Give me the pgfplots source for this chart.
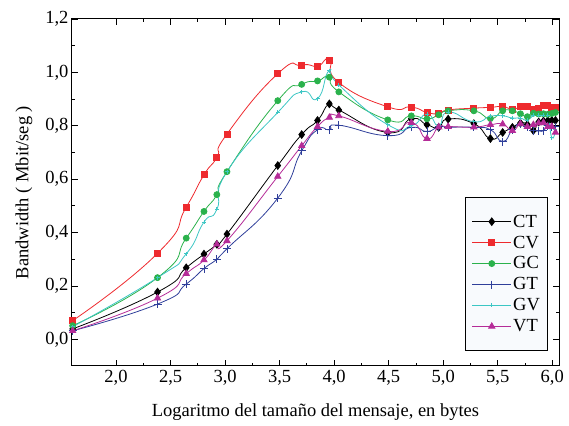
\documentclass[border=0pt]{standalone}
\usepackage{fontspec}
\setmainfont{Liberation Serif}
\usepackage{pgfplots}
\usepackage{pgfplotstable}
\pgfplotsset{compat=1.18}

\definecolor{ctcol}{HTML}{000000}
\definecolor{cvcol}{HTML}{EE2A2E}
\definecolor{gccol}{HTML}{2BB24C}
\definecolor{gtcol}{HTML}{2F3F9A}
\definecolor{gvcol}{HTML}{3CC6C4}
\definecolor{vtcol}{HTML}{B52C98}
\definecolor{legfill}{HTML}{F8FAFD}

% x = log10(message size in bytes); bandwidth in Mbit/s
\pgfplotstableread{
x      CT     CV     GC     GT     GV     VT
1.6021 0.039  0.070  0.051  0.032  0.047  0.032
2.3802 0.177  0.322  0.231  0.132  0.231  0.154
2.6435 0.268  0.495  0.379  0.207  0.320  0.246
2.8062 0.319  0.616  0.479  0.265  0.439  0.297
2.9243 0.356  0.682  0.542  0.300  0.487  0.356
3.0170 0.394  0.769  0.628  0.339  0.628  0.369
3.4829 0.651  0.995  0.894  0.529  0.850  0.610
3.7024 0.767  1.027  0.955  0.706  0.927  0.725
3.8476 0.820  1.024  0.968  0.785  0.902  0.797
3.9562 0.882  1.046  0.982  0.785  1.007  0.831
4.0430 0.859  0.962  0.927  0.802  0.953  0.837
4.4919 0.775  0.871  0.822  0.763  0.804  0.779
4.7079 0.826  0.870  0.837  0.794  0.800  0.812
4.8513 0.804  0.850  0.826  0.779  0.843  0.752
4.9590 0.794  0.846  0.841  0.797  0.800  0.795
5.0455 0.825  0.859  0.856  0.795  0.851  0.797
5.2811 0.808  0.866  0.856  0.794  0.815  0.795
5.4330 0.752  0.869  0.827  0.785  0.835  0.804
5.5453 0.775  0.872  0.856  0.741  0.837  0.806
5.6345 0.794  0.862  0.856  0.785  0.829  0.782
5.7084 0.810  0.871  0.845  0.805  0.829  0.807
5.7716 0.805  0.872  0.834  0.797  0.820  0.797
5.8267 0.782  0.860  0.847  0.781  0.840  0.804
5.8756 0.814  0.866  0.844  0.781  0.840  0.810
5.9196 0.818  0.875  0.845  0.781  0.840  0.812
5.9595 0.820  0.875  0.843  0.800  0.840  0.797
5.9961 0.820  0.870  0.846  0.794  0.756  0.797
6.0298 0.820  0.870  0.850  0.797  0.785  0.775
}\bw

\pgfplotsset{
  curve/.style={line width=0.8pt, smooth, tension=1, mark options={solid}},
}

\begin{document}
\begin{tikzpicture}
\begin{axis}[
  scale only axis,
  width=487pt, height=347pt,
  xmin=1.596, xmax=6.062,
  ymin=-0.1, ymax=1.2,
  xtick={2,2.5,3,3.5,4,4.5,5,5.5,6},
  ytick={0,0.2,0.4,0.6,0.8,1.0,1.2},
  minor x tick num=1, minor y tick num=1,
  tick align=inside,
  major tick length=6pt, minor tick length=3pt,
  axis line style={line width=1pt},
  every tick/.style={black, line width=0.8pt},
  /pgf/number format/use comma,
  /pgf/number format/fixed,
  /pgf/number format/fixed zerofill,
  /pgf/number format/precision=1,
  /pgf/number format/assume math mode=true,
  ticklabel style={font=\fontsize{18.5}{22}\selectfont},
  xticklabel style={yshift=-1pt},
  label style={font=\fontsize{18.5}{22}\selectfont},
  xlabel={Logaritmo del tamaño del mensaje, en bytes},
  ylabel={Bandwidth ( Mbit/seg )},
  xlabel style={yshift=-11pt},
  ylabel style={yshift=6pt},
  legend cell align=left,
  legend style={at={(0.977,0.043)}, anchor=south east, draw=black, line width=0.8pt,
    fill=legfill, font=\fontsize{18.5}{22}\selectfont,
    inner xsep=6pt, inner ysep=16pt, row sep=4.2pt,
    nodes={inner sep=1.5pt}},
  legend image code/.code={%
    \draw[mark repeat=2, mark phase=2, line width=0.8pt]
      plot coordinates {(0pt,0pt) (19.5pt,0pt) (39pt,0pt)};},
]
\addplot[curve, color=ctcol, mark=diamond*, mark size=3.8pt] table[x=x, y=CT] {\bw};
\addlegendentry{CT}
\addplot[curve, color=cvcol, mark=square*, mark size=3pt] table[x=x, y=CV] {\bw};
\addlegendentry{CV}
\addplot[curve, color=gccol, mark=*, mark size=3pt] table[x=x, y=GC] {\bw};
\addlegendentry{GC}
\addplot[curve, color=gtcol, mark=+, mark size=4pt] table[x=x, y=GT] {\bw};
\addlegendentry{GT}
\addplot[curve, color=gvcol, mark=+, mark size=2pt] table[x=x, y=GV] {\bw};
\addlegendentry{GV}
\addplot[curve, color=vtcol, mark=triangle*, mark size=3.6pt] table[x=x, y=VT] {\bw};
\addlegendentry{VT}
\end{axis}
\path ([shift={(-72pt,-60pt)}]current axis.south west) rectangle ([shift={(10pt,19pt)}]current axis.north east);
\end{tikzpicture}
\end{document}
